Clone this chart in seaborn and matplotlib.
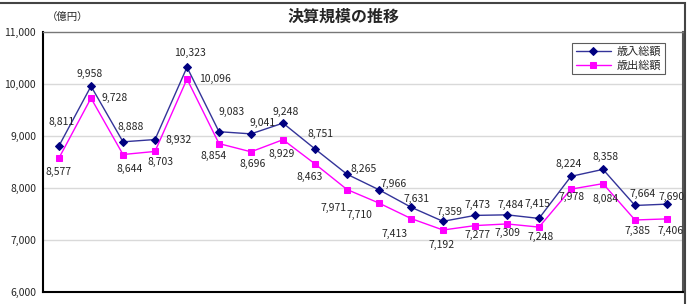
import numpy as np
import pandas as pd
import seaborn as sns
import matplotlib.pyplot as plt
from matplotlib.patches import Rectangle

sns.set_style("white")
plt.rcParams['font.family'] = ['Noto Sans CJK JP', 'DejaVu Sans']

# data (億円), 20 fiscal years
revenue = [8811, 9958, 8888, 8932, 10323, 9083, 9041, 9248, 8751, 8265,
           7966, 7631, 7359, 7473, 7484, 7415, 8224, 8358, 7664, 7690]
expenditure = [8577, 9728, 8644, 8703, 10096, 8854, 8696, 8929, 8463, 7971,
               7710, 7413, 7192, 7277, 7309, 7248, 7978, 8084, 7385, 7406]
series_names = ['歳入総額', '歳出総額']

# label offsets in pixels (dx, dy with dy positive = down)
rev_off = [(3, -24), (-1, -12), (8, -15), (24, 0), (3, -14), (13, -20), (12, -11),
           (3, -11), (5, -15), (17, -5), (15, -6), (5, -8), (6, -9), (2, -10),
           (4, -10), (-2, -14), (-2, -12), (3, -12), (8, -11), (5, -7)]
exp_off = [(0, 14), (24, 0), (7, 14), (6, 11), (28, 0), (-5, 12), (2, 12),
           (-1, 14), (-5, 13), (-14, 18), (-20, 12), (-17, 15), (-1, 15), (2, 9),
           (0, 9), (2, 10), (1, 8), (3, 15), (2, 11), (4, 12)]

x = np.arange(len(revenue))
df = pd.DataFrame({'x': np.concatenate([x, x]),
                   'value': revenue + expenditure,
                   'series': [series_names[0]] * len(x) + [series_names[1]] * len(x)})

fig = plt.figure(figsize=(6.88, 3.04), dpi=100)
ax = fig.add_axes([43 / 688, 12 / 304, 640 / 688, 260 / 304])

sns.lineplot(data=df[df.series == series_names[0]], x='x', y='value', ax=ax,
             color='#333399', lw=1, marker='D', markersize=4.5,
             markerfacecolor='#000080', markeredgecolor='#000080', label=series_names[0])
sns.lineplot(data=df[df.series == series_names[1]], x='x', y='value', ax=ax,
             color='#FF00FF', lw=1, marker='s', markersize=5,
             markerfacecolor='#FF00FF', markeredgecolor='#FF00FF', label=series_names[1])

for i in range(len(x)):
    ax.annotate(f'{revenue[i]:,}', (x[i], revenue[i]), xytext=(rev_off[i][0], -rev_off[i][1]),
                textcoords='offset pixels', ha='center', va='center', fontsize=7.5)
    ax.annotate(f'{expenditure[i]:,}', (x[i], expenditure[i]), xytext=(exp_off[i][0], -exp_off[i][1]),
                textcoords='offset pixels', ha='center', va='center', fontsize=7.5)

ax.set_xlim(-0.5, len(x) - 0.5)
ax.set_ylim(6000, 11000)
ax.set_yticks(range(6000, 11001, 1000))
ax.set_yticklabels([f'{v:,}' for v in range(6000, 11001, 1000)], fontsize=7.5)
ax.set_xticks(np.arange(0.5, len(x) - 1, 1))
ax.set_xticklabels([])
ax.tick_params(axis='x', direction='in', length=4, width=0.8, color='#333333')
ax.tick_params(axis='y', length=0, pad=5)
ax.set_xlabel('')
ax.set_ylabel('')
for v in range(7000, 11000, 1000):
    ax.axhline(v, color='#d9d9d9', lw=1, zorder=0)

ax.spines['left'].set_color('black')
ax.spines['left'].set_linewidth(1.5)
ax.spines['bottom'].set_color('black')
ax.spines['bottom'].set_linewidth(1.5)
ax.spines['top'].set_color('#777777')
ax.spines['top'].set_linewidth(1)
ax.spines['right'].set_color('#555555')
ax.spines['right'].set_linewidth(1.5)

leg = ax.legend(loc='upper right', bbox_to_anchor=(0.98, 0.98), fontsize=8,
                frameon=True, fancybox=False, edgecolor='#333333', handlelength=3.2,
                borderpad=0.3, labelspacing=0.3, handletextpad=0.5)
leg.get_frame().set_linewidth(0.8)

fig.text(344 / 688, 1 - 17 / 304, '決算規模の推移', ha='center', va='center',
         fontsize=11.5, fontweight='bold')
fig.text(47 / 688, 1 - 17 / 304, '（億円）', ha='left', va='center', fontsize=7.5)

fig.patches.append(Rectangle((-0.01, -0.1), 685 / 688 + 0.01, 1.1 - 3 / 304,
                             transform=fig.transFigure, fill=False,
                             edgecolor='#444444', lw=1.5))

fig.savefig('out.png', dpi=100)
